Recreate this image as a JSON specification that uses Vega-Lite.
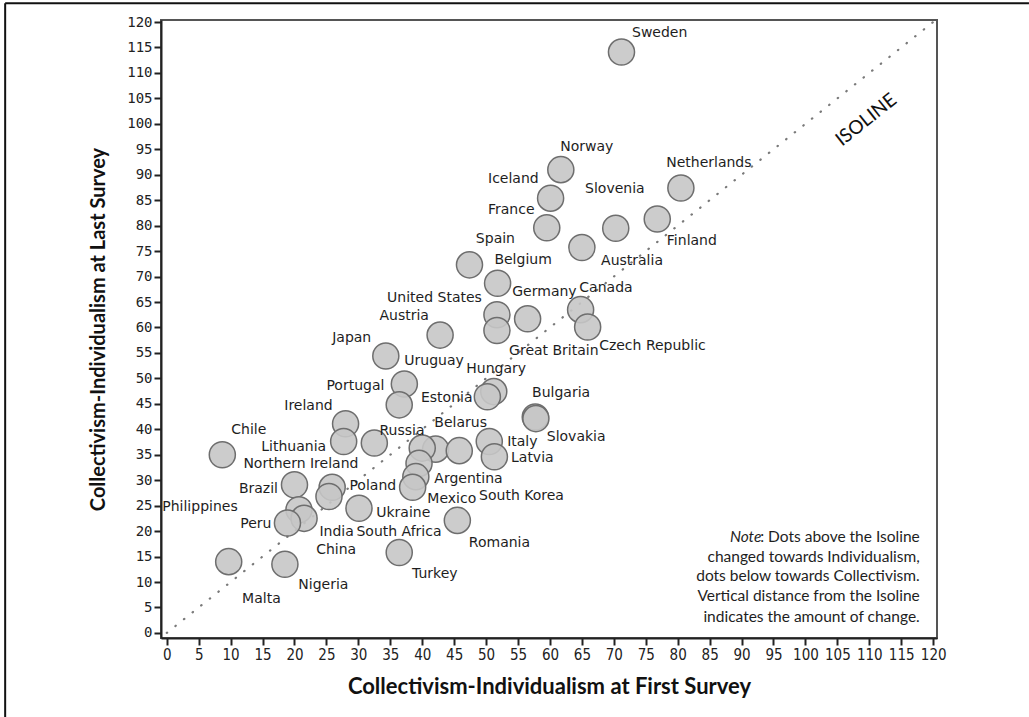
{
  "$schema": "https://vega.github.io/schema/vega-lite/v6.json",
  "width": 776,
  "height": 618,
  "autosize": {"type": "none"},
  "padding": {"left": 161, "top": 20, "right": 92, "bottom": 79},
  "background": "white",
  "datasets": {
    "countries": [
      {"country": "Sweden", "x": 71.2, "y": 114.1, "lx": 72.85, "ly": 117.9},
      {"country": "Norway", "x": 61.7, "y": 91.0, "lx": 61.6, "ly": 95.5},
      {"country": "Iceland", "x": 60.1, "y": 85.4, "lx": 50.3, "ly": 89.2},
      {"country": "France", "x": 59.5, "y": 79.6, "lx": 50.3, "ly": 83.1},
      {"country": "Slovenia", "x": 70.3, "y": 79.5, "lx": 65.5, "ly": 87.2},
      {"country": "Finland", "x": 76.8, "y": 81.3, "lx": 78.3, "ly": 77.0},
      {"country": "Netherlands", "x": 80.5, "y": 87.4, "lx": 78.2, "ly": 92.3},
      {"country": "Australia", "x": 65.0, "y": 75.7, "lx": 68.0, "ly": 73.1},
      {"country": "Spain", "x": 47.4, "y": 72.3, "lx": 48.4, "ly": 77.4},
      {"country": "Belgium", "x": 51.8, "y": 68.7, "lx": 51.3, "ly": 73.3},
      {"country": "United States", "x": 51.7, "y": 62.5, "lx": 34.5, "ly": 65.8},
      {"country": "Great Britain", "x": 51.7, "y": 59.4, "lx": 53.6, "ly": 55.4},
      {"country": "Germany", "x": 56.5, "y": 61.7, "lx": 54.1, "ly": 67.0},
      {"country": "Canada", "x": 64.8, "y": 63.5, "lx": 64.6, "ly": 67.8},
      {"country": "Czech Republic", "x": 65.9, "y": 60.1, "lx": 67.7, "ly": 56.4},
      {"country": "Austria", "x": 42.8, "y": 58.5, "lx": 33.3, "ly": 62.3},
      {"country": "Japan", "x": 34.3, "y": 54.4, "lx": 25.9, "ly": 58.0},
      {"country": "Uruguay", "x": 37.2, "y": 48.9, "lx": 37.2, "ly": 53.4},
      {"country": "Portugal", "x": 36.4, "y": 44.8, "lx": 25.0, "ly": 48.5},
      {"country": "Hungary", "x": 51.2, "y": 47.4, "lx": 46.9, "ly": 51.9},
      {"country": "Estonia", "x": 50.2, "y": 46.4, "lx": 39.8, "ly": 46.2},
      {"country": "Bulgaria", "x": 57.7, "y": 42.4, "lx": 57.2, "ly": 47.2},
      {"country": "Slovakia", "x": 57.8, "y": 42.1, "lx": 59.5, "ly": 38.5},
      {"country": "Ireland", "x": 28.0, "y": 41.1, "lx": 18.4, "ly": 44.6},
      {"country": "Chile", "x": 8.7, "y": 35.0, "lx": 10.1, "ly": 39.9},
      {"country": "Russia", "x": 32.5, "y": 37.3, "lx": 33.3, "ly": 39.7},
      {"country": "Lithuania", "x": 27.7, "y": 37.6, "lx": 14.8, "ly": 36.5},
      {"country": "Belarus", "x": 42.1, "y": 36.1, "lx": 41.9, "ly": 41.3},
      {"country": "Italy", "x": 50.5, "y": 37.6, "lx": 53.3, "ly": 37.5},
      {"country": "Latvia", "x": 51.3, "y": 34.6, "lx": 53.9, "ly": 34.4},
      {"country": "Northern Ireland", "x": 40.0, "y": 36.3, "lx": 12.0, "ly": 33.2},
      {"country": "South Korea", "x": 45.8, "y": 35.8, "lx": 48.9, "ly": 26.8},
      {"country": "Argentina", "x": 39.5, "y": 33.3, "lx": 41.9, "ly": 30.3},
      {"country": "South Africa", "x": 39.0, "y": 30.7, "lx": 29.7, "ly": 19.8},
      {"country": "Mexico", "x": 38.5, "y": 28.6, "lx": 40.8, "ly": 26.3},
      {"country": "Poland", "x": 25.9, "y": 28.6, "lx": 28.6, "ly": 28.9},
      {"country": "China", "x": 25.4, "y": 26.8, "lx": 23.4, "ly": 16.3},
      {"country": "Brazil", "x": 20.0, "y": 29.1, "lx": 11.3, "ly": 28.3},
      {"country": "Philippines", "x": 20.7, "y": 24.2, "lx": -0.7, "ly": 24.8},
      {"country": "India", "x": 21.5, "y": 22.5, "lx": 23.9, "ly": 19.8},
      {"country": "Peru", "x": 18.9, "y": 21.6, "lx": 11.5, "ly": 21.4},
      {"country": "Ukraine", "x": 30.1, "y": 24.5, "lx": 32.8, "ly": 23.6},
      {"country": "Romania", "x": 45.5, "y": 22.1, "lx": 47.3, "ly": 17.7},
      {"country": "Turkey", "x": 36.4, "y": 15.8, "lx": 38.4, "ly": 11.6},
      {"country": "Malta", "x": 9.7, "y": 14.0, "lx": 11.8, "ly": 6.7},
      {"country": "Nigeria", "x": 18.5, "y": 13.5, "lx": 20.6, "ly": 9.4}
    ],
    "isoline": [{"x": 0, "y": 0, "x2": 120, "y2": 120}],
    "border": [
      {"x": -25.3, "y": -16.5, "x2": -25.3, "y2": 123.7},
      {"x": -25.3, "y": 123.7, "x2": 135, "y2": 123.7}
    ],
    "note": [
      {"text": ": Dots above the Isoline", "x": 117.9, "y": 18.9},
      {"text": "changed towards Individualism,", "x": 117.9, "y": 15.0},
      {"text": "dots below towards Collectivism.", "x": 117.9, "y": 11.1},
      {"text": "Vertical distance from the Isoline", "x": 117.9, "y": 7.2},
      {"text": "indicates the amount of change.", "x": 117.9, "y": 3.1}
    ],
    "noteItalic": [{"text": "Note", "x": 93.1, "y": 18.9}],
    "isoLabel": [{"text": "ISOLINE", "x": 109.5, "y": 100.8}]
  },
  "layer": [
    {
      "data": {"name": "border"},
      "mark": {"type": "rule", "color": "#111", "strokeWidth": 2, "clip": false},
      "encoding": {
        "x": {"field": "x", "type": "quantitative", "scale": {"domain": [-0.9, 120.6], "nice": false, "zero": false}, "title": "Collectivism-Individualism at First Survey", "axis": {"values": [0,5,10,15,20,25,30,35,40,45,50,55,60,65,70,75,80,85,90,95,100,105,110,115,120]}},
        "y": {"field": "y", "type": "quantitative", "scale": {"domain": [-1.0, 120.4], "nice": false, "zero": false}, "title": "Collectivism-Individualism at Last Survey", "axis": {"values": [0,5,10,15,20,25,30,35,40,45,50,55,60,65,70,75,80,85,90,95,100,105,110,115,120]}},
        "x2": {"field": "x2"},
        "y2": {"field": "y2"}
      }
    },
    {
      "data": {"name": "isoline"},
      "mark": {"type": "rule", "color": "#7a7a7a", "strokeWidth": 2.2, "strokeDash": [0.5, 10.5], "strokeCap": "round"},
      "encoding": {
        "x": {"field": "x", "type": "quantitative", "scale": {"domain": [-0.9, 120.6], "nice": false, "zero": false}, "title": "Collectivism-Individualism at First Survey", "axis": {"values": [0,5,10,15,20,25,30,35,40,45,50,55,60,65,70,75,80,85,90,95,100,105,110,115,120]}},
        "y": {"field": "y", "type": "quantitative", "scale": {"domain": [-1.0, 120.4], "nice": false, "zero": false}, "title": "Collectivism-Individualism at Last Survey", "axis": {"values": [0,5,10,15,20,25,30,35,40,45,50,55,60,65,70,75,80,85,90,95,100,105,110,115,120]}},
        "x2": {"field": "x2"},
        "y2": {"field": "y2"}
      }
    },
    {
      "data": {"name": "countries"},
      "mark": {"type": "circle", "size": 680, "fill": "#c6c6c6", "fillOpacity": 0.9, "stroke": "#6e6e6e", "strokeWidth": 1.5, "opacity": 1},
      "encoding": {
        "x": {"field": "x", "type": "quantitative", "scale": {"domain": [-0.9, 120.6], "nice": false, "zero": false}, "title": "Collectivism-Individualism at First Survey", "axis": {"values": [0,5,10,15,20,25,30,35,40,45,50,55,60,65,70,75,80,85,90,95,100,105,110,115,120]}},
        "y": {"field": "y", "type": "quantitative", "scale": {"domain": [-1.0, 120.4], "nice": false, "zero": false}, "title": "Collectivism-Individualism at Last Survey", "axis": {"values": [0,5,10,15,20,25,30,35,40,45,50,55,60,65,70,75,80,85,90,95,100,105,110,115,120]}},
        "tooltip": {"field": "country"}
      }
    },
    {
      "data": {"name": "countries"},
      "mark": {"type": "text", "align": "left", "baseline": "middle", "font": "DejaVu Sans", "fontSize": 14, "color": "#1e1e1e"},
      "encoding": {
        "x": {"field": "lx", "type": "quantitative", "scale": {"domain": [-0.9, 120.6], "nice": false, "zero": false}, "title": "Collectivism-Individualism at First Survey", "axis": {"values": [0,5,10,15,20,25,30,35,40,45,50,55,60,65,70,75,80,85,90,95,100,105,110,115,120]}},
        "y": {"field": "ly", "type": "quantitative", "scale": {"domain": [-1.0, 120.4], "nice": false, "zero": false}, "title": "Collectivism-Individualism at Last Survey", "axis": {"values": [0,5,10,15,20,25,30,35,40,45,50,55,60,65,70,75,80,85,90,95,100,105,110,115,120]}},
        "text": {"field": "country"}
      }
    },
    {
      "data": {"name": "note"},
      "mark": {"type": "text", "align": "right", "baseline": "middle", "font": "Lato", "fontSize": 15.5, "color": "#1e1e1e"},
      "encoding": {
        "x": {"field": "x", "type": "quantitative", "scale": {"domain": [-0.9, 120.6], "nice": false, "zero": false}, "title": "Collectivism-Individualism at First Survey", "axis": {"values": [0,5,10,15,20,25,30,35,40,45,50,55,60,65,70,75,80,85,90,95,100,105,110,115,120]}},
        "y": {"field": "y", "type": "quantitative", "scale": {"domain": [-1.0, 120.4], "nice": false, "zero": false}, "title": "Collectivism-Individualism at Last Survey", "axis": {"values": [0,5,10,15,20,25,30,35,40,45,50,55,60,65,70,75,80,85,90,95,100,105,110,115,120]}},
        "text": {"field": "text"}
      }
    },
    {
      "data": {"name": "noteItalic"},
      "mark": {"type": "text", "align": "right", "baseline": "middle", "font": "Lato", "fontStyle": "italic", "fontSize": 15.5, "color": "#1e1e1e"},
      "encoding": {
        "x": {"field": "x", "type": "quantitative", "scale": {"domain": [-0.9, 120.6], "nice": false, "zero": false}, "title": "Collectivism-Individualism at First Survey", "axis": {"values": [0,5,10,15,20,25,30,35,40,45,50,55,60,65,70,75,80,85,90,95,100,105,110,115,120]}},
        "y": {"field": "y", "type": "quantitative", "scale": {"domain": [-1.0, 120.4], "nice": false, "zero": false}, "title": "Collectivism-Individualism at Last Survey", "axis": {"values": [0,5,10,15,20,25,30,35,40,45,50,55,60,65,70,75,80,85,90,95,100,105,110,115,120]}},
        "text": {"field": "text"}
      }
    },
    {
      "data": {"name": "isoLabel"},
      "mark": {"type": "text", "align": "center", "baseline": "middle", "font": "Lato", "fontSize": 19, "angle": -38.5, "color": "#111"},
      "encoding": {
        "x": {"field": "x", "type": "quantitative", "scale": {"domain": [-0.9, 120.6], "nice": false, "zero": false}, "title": "Collectivism-Individualism at First Survey", "axis": {"values": [0,5,10,15,20,25,30,35,40,45,50,55,60,65,70,75,80,85,90,95,100,105,110,115,120]}},
        "y": {"field": "y", "type": "quantitative", "scale": {"domain": [-1.0, 120.4], "nice": false, "zero": false}, "title": "Collectivism-Individualism at Last Survey", "axis": {"values": [0,5,10,15,20,25,30,35,40,45,50,55,60,65,70,75,80,85,90,95,100,105,110,115,120]}},
        "text": {"field": "text"}
      }
    }
  ],
  "config": {
    "view": {"stroke": "#555", "strokeWidth": 2},
    "axis": {"grid": false, "domainColor": "#222", "domainWidth": 2, "tickColor": "#222", "tickWidth": 2, "tickSize": 7, "labelColor": "#222", "titleColor": "#111", "labelOverlap": false, "labelFlush": false},
    "axisX": {"labelFont": "DejaVu Sans Condensed", "labelFontSize": 15, "labelPadding": 2, "titleFont": "Lato", "titleFontWeight": "bold", "titleFontSize": 22, "titlePadding": 14},
    "axisY": {"labelFont": "DejaVu Sans Mono", "labelFontSize": 14, "labelPadding": 2, "titleFont": "Lato", "titleFontWeight": "bold", "titleFontSize": 20, "titlePadding": 18}
  }
}
